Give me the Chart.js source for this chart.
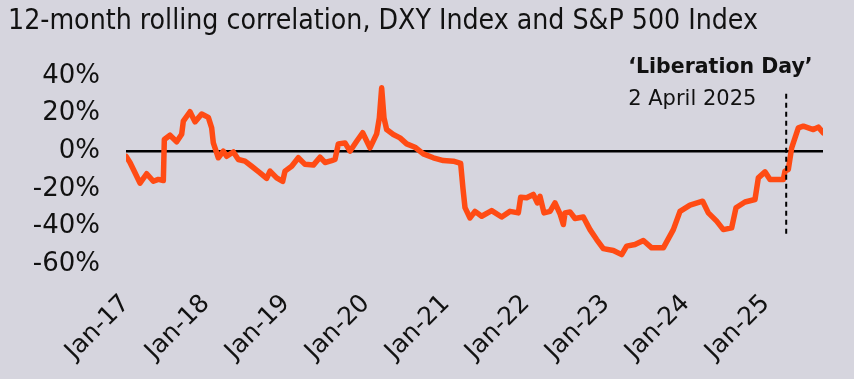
<!DOCTYPE html>
<html>
<head>
<meta charset="utf-8">
<script src="https://cdn.jsdelivr.net/npm/chart.js@4.4.1/dist/chart.umd.min.js"></script>
<style>
  html, body { margin: 0; padding: 0; background: #d6d5de; }
  #wrap { position: relative; width: 854px; height: 379px; overflow: hidden; }
  #title { position: absolute; left: 8px; top: 4px; white-space: nowrap;
           font-family: "Liberation Sans Narrow", "DejaVu Sans Condensed", "Roboto", sans-serif;
           font-size: 26px; color: #111; line-height: 32px; }
  canvas { position: absolute; left: 0; top: 0; }
</style>
</head>
<body>
<div id="wrap">
  <canvas id="c" width="854" height="379"></canvas>
  <div id="title">12-month rolling correlation, DXY Index and S&amp;P 500 Index</div>
</div>
<script>
// Months since January 2017
const months = [0,0.6,1.35,2.1,3.1,4.1,4.85,5.6,5.75,6.6,7.6,8.35,8.6,9.6,10.35,11.35,12.35,12.85,13.1,13.85,14.6,15.1,16.1,16.85,17.85,18.85,20.1,21.1,21.6,22.6,23.5,23.85,24.85,25.85,26.85,28.1,29.1,29.85,30.85,31.35,31.85,32.85,33.6,34.6,35.5,36.6,37.6,38.0,38.35,38.7,39.1,40.1,41.1,42.1,43.35,44.6,46.1,47.6,49.1,50.2,50.55,50.85,51.6,52.35,53.35,54.85,56.35,57.6,58.85,59.2,60.1,61.1,61.7,62.1,62.7,63.6,64.35,65.1,65.6,65.85,66.6,67.35,68.6,69.6,70.6,71.6,73.1,74.35,75.1,76.35,77.6,78.85,80.6,82.1,83.1,84.6,86.5,87.35,88.6,89.6,90.85,91.5,92.85,94.35,94.85,95.85,96.6,98.6,98.85,99.35,99.85,100.85,101.6,103.1,103.85,104.6];
// Correlation, %
const correlation = [-2.7,-6,-11.5,-17,-12,-16,-15,-15.6,6.2,8.5,5,9,16,21,15.6,19.8,18,12.4,4.4,-3.5,0,-2.7,-0.4,-4.4,-5.3,-8,-11.5,-14.5,-10.6,-14.2,-16,-10.6,-8,-3.5,-7,-7.4,-3.2,-6,-5,-4.4,3.9,4.4,0,5.3,9.8,1.8,9.2,17.7,33.7,17.7,11.5,8.9,7.1,3.9,2.1,-1.4,-3.5,-5,-5.3,-6.5,-20,-30,-35.5,-32,-34.6,-31.6,-35,-32,-32.8,-24.5,-24.8,-23,-27.5,-24,-32.8,-32,-27.5,-33.3,-39,-32.8,-32.3,-35.8,-35,-41.7,-47,-51.8,-52.8,-55,-50.5,-49.6,-47.5,-51.4,-51.4,-41.7,-32,-28.7,-26.6,-32.8,-37.2,-41.7,-40.8,-30.1,-27,-25.7,-14.2,-11,-15,-15,-10.6,-9.7,1.8,12.4,13.3,11.5,12.8,9.7];
const tickLabels = ["Jan-17","Jan-18","Jan-19","Jan-20","Jan-21","Jan-22","Jan-23","Jan-24","Jan-25"];
const yTicks = [-60,-40,-20,0,20,40];
const liberationDay = 99.03; // 2 April 2025, months since Jan 2017
const annotTitle = "\u2018Liberation Day\u2019";
const annotSub = "2 April 2025";

const points = months.map((m, i) => ({x: m, y: correlation[i]}));

const annotationPlugin = {
  id: 'libday',
  afterDatasetsDraw(chart) {
    const {ctx, scales: {x, y}} = chart;
    const px = x.getPixelForValue(liberationDay);
    ctx.save();
    ctx.strokeStyle = '#000';
    ctx.lineWidth = 2;
    ctx.setLineDash([5, 4]);
    ctx.beginPath();
    ctx.moveTo(px, y.getPixelForValue(30.5));
    ctx.lineTo(px, y.getPixelForValue(-45));
    ctx.stroke();
    ctx.setLineDash([]);
    ctx.fillStyle = '#111';
    ctx.textAlign = 'left';
    ctx.textBaseline = 'alphabetic';
    ctx.font = 'bold 20.5px "DejaVu Sans", sans-serif';
    ctx.fillText(annotTitle, px - 158, 73);
    ctx.font = '21px "DejaVu Sans", sans-serif';
    ctx.fillText(annotSub, px - 158, 105);
    ctx.restore();
  }
};

new Chart(document.getElementById('c'), {
  type: 'line',
  data: {
    datasets: [{
      data: points,
      borderColor: '#ff4b14',
      borderWidth: 5.5,
      pointRadius: 0,
      tension: 0,
      borderJoinStyle: 'round',
      borderCapStyle: 'round'
    }]
  },
  options: {
    responsive: false,
    animation: false,
    events: [],
    layout: { padding: { left: 0, right: 31, top: 76, bottom: 0 } },
    plugins: { legend: { display: false }, tooltip: { enabled: false } },
    scales: {
      x: {
        type: 'linear',
        min: 0,
        max: 104.55,
        afterBuildTicks(scale) { scale.ticks = tickLabels.map((_, i) => ({value: i * 12})); },
        afterFit(scale) { scale.height = 115; },
        grid: { display: false },
        border: { display: false },
        ticks: {
          autoSkip: false,
          minRotation: 45,
          maxRotation: 45,
          padding: 17,
          color: '#111',
          font: { family: '"DejaVu Sans", sans-serif', size: 25 },
          callback: (v) => tickLabels[Math.round(v / 12)]
        }
      },
      y: {
        type: 'linear',
        min: -60,
        max: 40,
        afterBuildTicks(scale) { scale.ticks = yTicks.map(v => ({value: v})); },
        afterFit(scale) { scale.width = 126; },
        border: { display: false },
        grid: {
          drawTicks: false,
          color: (c) => c.tick && c.tick.value === 0 ? '#000' : 'rgba(0,0,0,0)',
          lineWidth: 2.5
        },
        ticks: {
          padding: 26,
          color: '#111',
          font: { family: '"DejaVu Sans", sans-serif', size: 26 },
          callback: (v) => v + '%'
        }
      }
    }
  },
  plugins: [annotationPlugin]
});

// fit title width to reference (~750px)
const t = document.getElementById('title');
const w = t.getBoundingClientRect().width;
if (w > 0) t.style.fontSize = (26 * 750 / w).toFixed(2) + 'px';
</script>
</body>
</html>
